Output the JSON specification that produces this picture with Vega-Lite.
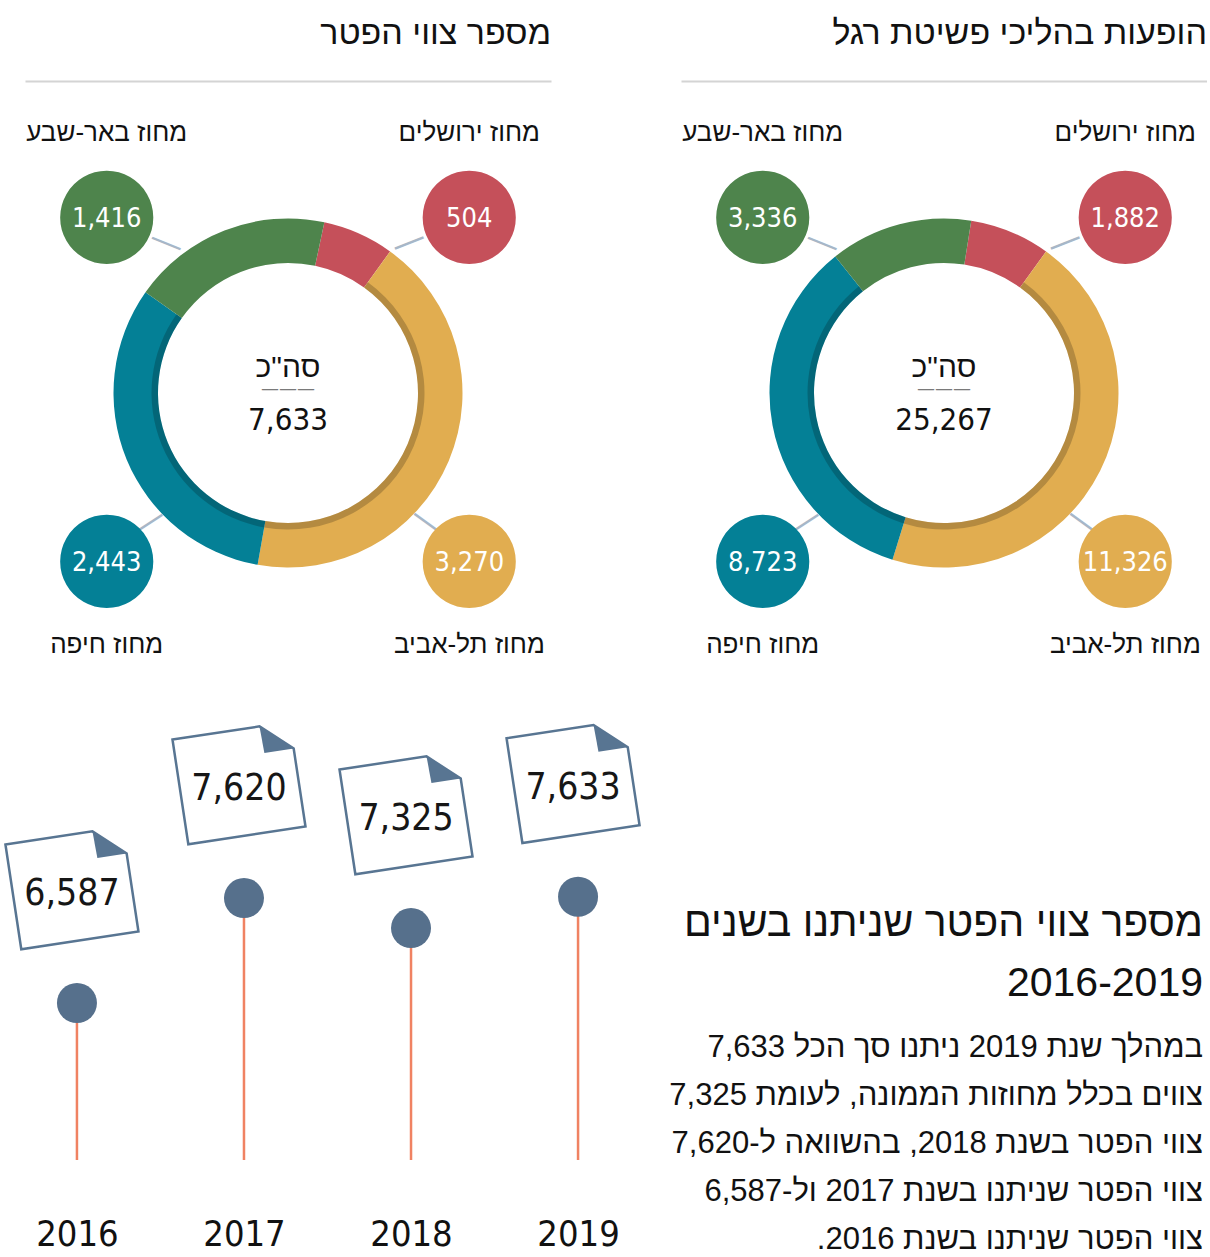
{
  "$schema": "https://vega.github.io/schema/vega-lite/v6.json",
  "background": "white",
  "padding": {"left": 0, "top": 17, "right": 0, "bottom": 0},
  "spacing": 0,
  "config": {"view": {"stroke": null}, "axis": {"grid": false}},
  "vconcat": [
    {
      "data": {"values": [
        {"chart": "מספר צווי הפטר", "region": "מחוז ירושלים", "count": 504},
        {"chart": "מספר צווי הפטר", "region": "מחוז תל-אביב", "count": 3270},
        {"chart": "מספר צווי הפטר", "region": "מחוז חיפה", "count": 2443},
        {"chart": "מספר צווי הפטר", "region": "מחוז באר-שבע", "count": 1416},
        {"chart": "הופעות בהליכי פשיטת רגל", "region": "מחוז ירושלים", "count": 1882},
        {"chart": "הופעות בהליכי פשיטת רגל", "region": "מחוז תל-אביב", "count": 11326},
        {"chart": "הופעות בהליכי פשיטת רגל", "region": "מחוז חיפה", "count": 8723},
        {"chart": "הופעות בהליכי פשיטת רגל", "region": "מחוז באר-שבע", "count": 3336}
      ]},
      "facet": {"column": {"field": "chart", "type": "nominal", "title": null,
        "sort": ["מספר צווי הפטר", "הופעות בהליכי פשיטת רגל"],
        "header": {"labelFontSize": 34, "labelFont": "Liberation Sans, DejaVu Sans, sans-serif", "labelColor": "#111111", "labelAnchor": "end", "labelAlign": "right", "labelPadding": 30}}},
      "spacing": 130,
      "resolve": {"scale": {"x": "independent", "theta": "independent"}},
      "spec": {
        "width": 526,
        "height": 624,
        "resolve": {"scale": {"theta": "independent"}},
        "layer": [
          {
            "mark": {"type": "arc", "outerRadius": 174.5, "innerRadius": 130},
            "encoding": {
              "x": {"field": "chart", "type": "nominal", "axis": {"orient": "top", "labels": false, "ticks": false, "title": null, "domainColor": "#D4D4D4", "domainWidth": 2}},
              "theta": {"field": "count", "type": "quantitative", "stack": "normalize", "scale": {"range": [0.625, 6.908]}},
              "order": {"field": "count", "type": "quantitative", "sort": "descending"},
              "color": {"field": "region", "type": "nominal", "legend": null,
                "scale": {"domain": ["מחוז ירושלים", "מחוז תל-אביב", "מחוז חיפה", "מחוז באר-שבע"], "range": ["#C5505A", "#E1AD50", "#048096", "#4E844C"]}}
            }
          },
          {
            "mark": {"type": "arc", "outerRadius": 136.5, "innerRadius": 130, "color": "black"},
            "encoding": {
              "theta": {"field": "count", "type": "quantitative", "stack": "normalize", "scale": {"range": [0.625, 6.908]}},
              "order": {"field": "count", "type": "quantitative", "sort": "descending"},
              "detail": {"field": "region", "type": "nominal"},
              "opacity": {"condition": {"test": "datum.region === 'מחוז תל-אביב' || datum.region === 'מחוז חיפה'", "value": 0.2}, "value": 0}
            }
          },
          {
            "transform": [{"filter": {"field": "region", "equal": "מחוז ירושלים"}}],
            "mark": {"type": "text", "text": "—", "radius": 193, "angle": 338.5, "fontSize": 34, "font": "DejaVu Sans", "color": "#A7B7C8", "baseline": "middle", "align": "center"},
            "encoding": {"theta": {"field": "region", "type": "nominal", "scale": {"type": "point", "domain": ["מחוז ירושלים", "מחוז תל-אביב", "מחוז חיפה", "מחוז באר-שבע"], "range": [0.677, 5.603], "padding": 0}}}
          },
          {
            "transform": [{"filter": {"field": "region", "equal": "מחוז תל-אביב"}}],
            "mark": {"type": "text", "text": "—", "radius": 190, "angle": 36, "fontSize": 34, "font": "DejaVu Sans", "color": "#A7B7C8", "baseline": "middle", "align": "center"},
            "encoding": {"theta": {"field": "region", "type": "nominal", "scale": {"type": "point", "domain": ["מחוז ירושלים", "מחוז תל-אביב", "מחוז חיפה", "מחוז באר-שבע"], "range": [0.677, 5.603], "padding": 0}}}
          },
          {
            "transform": [{"filter": {"field": "region", "equal": "מחוז חיפה"}}],
            "mark": {"type": "text", "text": "—", "radius": 190, "angle": 327, "fontSize": 34, "font": "DejaVu Sans", "color": "#A7B7C8", "baseline": "middle", "align": "center"},
            "encoding": {"theta": {"field": "region", "type": "nominal", "scale": {"type": "point", "domain": ["מחוז ירושלים", "מחוז תל-אביב", "מחוז חיפה", "מחוז באר-שבע"], "range": [0.677, 5.603], "padding": 0}}}
          },
          {
            "transform": [{"filter": {"field": "region", "equal": "מחוז באר-שבע"}}],
            "mark": {"type": "text", "text": "—", "radius": 193, "angle": 22, "fontSize": 34, "font": "DejaVu Sans", "color": "#A7B7C8", "baseline": "middle", "align": "center"},
            "encoding": {"theta": {"field": "region", "type": "nominal", "scale": {"type": "point", "domain": ["מחוז ירושלים", "מחוז תל-אביב", "מחוז חיפה", "מחוז באר-שבע"], "range": [0.677, 5.603], "padding": 0}}}
          },
          {
            "transform": [{"filter": {"field": "region", "oneOf": ["מחוז ירושלים", "מחוז באר-שבע"]}}],
            "mark": {"type": "text", "text": "●", "radius": 250, "dy": -9, "fontSize": 122, "font": "DejaVu Sans", "baseline": "middle", "align": "center"},
            "encoding": {
              "theta": {"field": "region", "type": "nominal", "scale": {"type": "point", "domain": ["מחוז ירושלים", "מחוז תל-אביב", "מחוז חיפה", "מחוז באר-שבע"], "range": [0.811, 5.472], "padding": 0}},
              "color": {"field": "region", "type": "nominal", "legend": null}
            }
          },
          {
            "transform": [{"filter": {"field": "region", "oneOf": ["מחוז תל-אביב", "מחוז חיפה"]}}],
            "mark": {"type": "text", "text": "●", "radius": 250, "dy": -9, "fontSize": 122, "font": "DejaVu Sans", "baseline": "middle", "align": "center"},
            "encoding": {
              "theta": {"field": "region", "type": "nominal", "scale": {"type": "point", "domain": ["מחוז ירושלים", "מחוז תל-אביב", "מחוז חיפה", "מחוז באר-שבע"], "range": [0.7069, 5.5763], "padding": 0}},
              "color": {"field": "region", "type": "nominal", "legend": null}
            }
          },
          {
            "transform": [{"filter": {"field": "region", "oneOf": ["מחוז ירושלים", "מחוז באר-שבע"]}}],
            "mark": {"type": "text", "radius": 250, "dy": -2, "fontSize": 27, "font": "Liberation Sans Narrow, DejaVu Sans Condensed, Liberation Sans, sans-serif", "color": "white", "baseline": "middle", "align": "center"},
            "encoding": {
              "theta": {"field": "region", "type": "nominal", "scale": {"type": "point", "domain": ["מחוז ירושלים", "מחוז תל-אביב", "מחוז חיפה", "מחוז באר-שבע"], "range": [0.811, 5.472], "padding": 0}},
              "text": {"field": "count", "type": "quantitative", "format": ","}
            }
          },
          {
            "transform": [{"filter": {"field": "region", "oneOf": ["מחוז תל-אביב", "מחוז חיפה"]}}],
            "mark": {"type": "text", "radius": 250, "dy": -2, "fontSize": 27, "font": "Liberation Sans Narrow, DejaVu Sans Condensed, Liberation Sans, sans-serif", "color": "white", "baseline": "middle", "align": "center"},
            "encoding": {
              "theta": {"field": "region", "type": "nominal", "scale": {"type": "point", "domain": ["מחוז ירושלים", "מחוז תל-אביב", "מחוז חיפה", "מחוז באר-שבע"], "range": [0.7069, 5.5763], "padding": 0}},
              "text": {"field": "count", "type": "quantitative", "format": ","}
            }
          },
          {
            "transform": [{"filter": {"field": "region", "oneOf": ["מחוז ירושלים", "מחוז באר-שבע"]}}],
            "mark": {"type": "text", "radius": 250, "dy": -88, "fontSize": 26, "font": "Liberation Sans, DejaVu Sans, sans-serif", "color": "#111111", "baseline": "middle", "align": "center"},
            "encoding": {
              "theta": {"field": "region", "type": "nominal", "scale": {"type": "point", "domain": ["מחוז ירושלים", "מחוז תל-אביב", "מחוז חיפה", "מחוז באר-שבע"], "range": [0.811, 5.472], "padding": 0}},
              "text": {"field": "region", "type": "nominal"}
            }
          },
          {
            "transform": [{"filter": {"field": "region", "oneOf": ["מחוז תל-אביב", "מחוז חיפה"]}}],
            "mark": {"type": "text", "radius": 250, "dy": 80, "fontSize": 26, "font": "Liberation Sans, DejaVu Sans, sans-serif", "color": "#111111", "baseline": "middle", "align": "center"},
            "encoding": {
              "theta": {"field": "region", "type": "nominal", "scale": {"type": "point", "domain": ["מחוז ירושלים", "מחוז תל-אביב", "מחוז חיפה", "מחוז באר-שבע"], "range": [0.7069, 5.5763], "padding": 0}},
              "text": {"field": "region", "type": "nominal"}
            }
          },
          {
            "transform": [{"aggregate": [{"op": "sum", "field": "count", "as": "total"}], "groupby": ["chart"]}],
            "mark": {"type": "text", "text": "סה\"כ", "dy": -25, "fontSize": 30, "font": "Liberation Sans, DejaVu Sans, sans-serif", "color": "#111111", "baseline": "middle", "align": "center"}
          },
          {
            "transform": [{"aggregate": [{"op": "sum", "field": "count", "as": "total"}], "groupby": ["chart"]}],
            "mark": {"type": "text", "text": "———", "dy": -4, "fontSize": 18, "font": "DejaVu Sans", "color": "#7A7A7A", "baseline": "middle", "align": "center"}
          },
          {
            "transform": [{"aggregate": [{"op": "sum", "field": "count", "as": "total"}], "groupby": ["chart"]}],
            "mark": {"type": "text", "dy": 28, "fontSize": 31, "font": "Liberation Sans Narrow, DejaVu Sans Condensed, Liberation Sans, sans-serif", "color": "#111111", "baseline": "middle", "align": "center"},
            "encoding": {"text": {"field": "total", "type": "quantitative", "format": ","}}
          }
        ]
      }
    },
    {
      "bounds": "flush",
      "spacing": 20,
      "hconcat": [
        {
          "width": 605,
          "height": 455,
          "data": {"values": [
            {"year": "2016", "count": 6587},
            {"year": "2017", "count": 7620},
            {"year": "2018", "count": 7325},
            {"year": "2019", "count": 7633}
          ]},
          "encoding": {
            "x": {"field": "year", "type": "ordinal", "scale": {"type": "point", "padding": 0.311},
              "axis": {"title": null, "domain": false, "ticks": false, "labelAngle": 0, "labelFontSize": 36, "labelFont": "Liberation Sans Narrow, DejaVu Sans Condensed, Liberation Sans, sans-serif", "labelColor": "#111111", "labelPadding": 57}},
            "y": {"field": "count", "type": "quantitative", "scale": {"domain": [5042, 9520], "zero": false, "nice": false}, "axis": null}
          },
          "layer": [
            {"mark": {"type": "rule", "color": "#F08262", "strokeWidth": 2.5}, "encoding": {"y2": {"value": "height"}}},
            {"mark": {"type": "circle", "size": 1600, "color": "#56708C", "opacity": 1}},
            {"mark": {"type": "point", "shape": "M-1,-0.894L0.485,-0.894L1,-0.438L1,0.894L-1,0.894Z", "size": 14042, "angle": 351.4, "filled": true, "fill": "white", "stroke": "#587592", "strokeWidth": 2.5, "opacity": 1, "xOffset": -5, "yOffset": -115}},
            {"mark": {"type": "point", "shape": "M0.485,-0.894L1,-0.438L0.5,-0.438Z", "size": 14042, "angle": 351.4, "filled": true, "color": "#587592", "opacity": 1, "xOffset": -5, "yOffset": -115}},
            {"mark": {"type": "text", "dx": -5, "dy": -109, "fontSize": 37, "font": "Liberation Sans Narrow, DejaVu Sans Condensed, Liberation Sans, sans-serif", "color": "#161616", "baseline": "middle", "align": "center"},
              "encoding": {"text": {"field": "count", "type": "quantitative", "format": ","}}}
          ]
        },
        {
          "width": 553,
          "height": 387,
          "data": {"values": [
            {"part": "כותרת", "lines": ["מספר צווי הפטר שניתנו בשנים", "2016-2019"]},
            {"part": "גוף", "lines": ["במהלך שנת 2019 ניתנו סך הכל 7,633", "צווים בכלל מחוזות הממונה, לעומת 7,325", "צווי הפטר בשנת 2018, בהשוואה ל-7,620", "צווי הפטר שניתנו בשנת 2017 ול-6,587", "צווי הפטר שניתנו בשנת 2016.‏"]}
          ]},
          "encoding": {
            "y": {"field": "part", "type": "nominal", "scale": {"type": "point", "domain": ["כותרת", "גוף"], "padding": 1, "align": 0.771}, "axis": null},
            "x": {"value": "width"}
          },
          "layer": [
            {"transform": [{"filter": {"field": "part", "equal": "כותרת"}}],
              "mark": {"type": "text", "align": "right", "baseline": "top", "fontSize": 41, "lineHeight": 60, "font": "Liberation Sans, DejaVu Sans, sans-serif", "color": "#111111"},
              "encoding": {"text": {"field": "lines", "type": "nominal"}}},
            {"transform": [{"filter": {"field": "part", "equal": "גוף"}}],
              "mark": {"type": "text", "align": "right", "baseline": "top", "fontSize": 31, "lineHeight": 48, "font": "Liberation Sans, DejaVu Sans, sans-serif", "color": "#111111"},
              "encoding": {"text": {"field": "lines", "type": "nominal"}}}
          ]
        }
      ]
    }
  ]
}
